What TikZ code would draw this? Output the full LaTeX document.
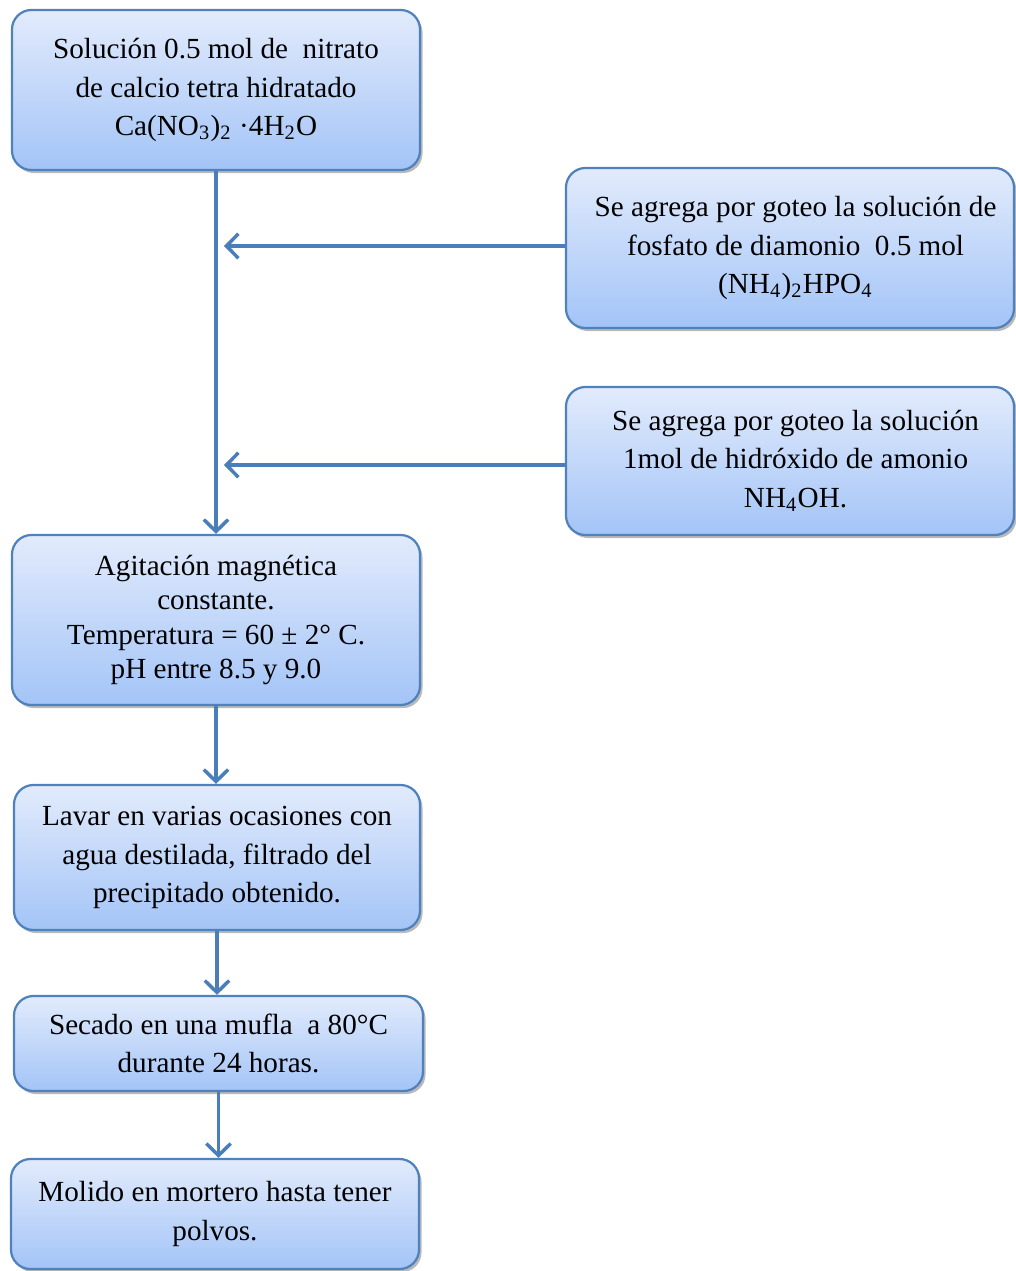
\documentclass[tikz,border=0pt]{standalone}
\usepackage{fontspec}
\setmainfont{Liberation Serif}
\usetikzlibrary{arrows.meta,shadows}
\definecolor{boxline}{RGB}{79,129,189}
\definecolor{boxtop}{RGB}{226,235,252}
\definecolor{boxbot}{RGB}{163,196,247}
\definecolor{flow}{RGB}{74,126,187}
\newcommand{\sbs}[1]{\textsubscript{#1}}
\begin{document}
\begin{tikzpicture}[x=0.36pt,y=-0.36pt,
  stepbox/.style={draw=boxline, line width=0.8pt, rounded corners=7pt,
    top color=boxtop, bottom color=boxbot, align=center, inner sep=0pt,
    font=\fontsize{10.5}{13.8}\selectfont,
    drop shadow={shadow xshift=0.9pt, shadow yshift=-1.1pt, fill=black!55, opacity=0.5}},
  flowline/.style={draw=flow, line width=1.25pt,
    -{Straight Barb[length=4.3pt,width=8.8pt,line width=1.25pt]}}]
\useasboundingbox (0,0) rectangle (1016,1271);

% process steps
\node[stepbox, minimum width=146.88pt, minimum height=57.6pt] (b1) at (216,90)
  {Solución 0.5 mol de\ \ nitrato\\de calcio tetra hidratado\\Ca(NO\sbs{3})\sbs{2} ·4H\sbs{2}O};
\node[stepbox, minimum width=161.28pt, minimum height=57.6pt] (b2) at (790,248)
  {\hspace*{4pt}Se agrega por goteo la solución de\\\hspace*{4pt}fosfato de diamonio\ \ 0.5 mol\\\hspace*{4pt}(NH\sbs{4})\sbs{2}HPO\sbs{4}};
\node[stepbox, minimum width=161.28pt, minimum height=53.28pt] (b3) at (790,461)
  {\hspace*{4pt}Se agrega por goteo la solución\\\hspace*{4pt}1mol de hidróxido de amonio\\\hspace*{4pt}NH\sbs{4}OH.};
\node[stepbox, minimum width=146.88pt, minimum height=61.2pt,
      font=\fontsize{10.5}{12.3}\selectfont] (b4) at (216,620)
  {Agitación magnética\\constante.\\Temperatura = 60 ± 2° C.\\pH entre 8.5 y 9.0};
\node[stepbox, minimum width=146.16pt, minimum height=52.2pt] (b5) at (217,857.5)
  {Lavar en varias ocasiones con\\agua destilada, filtrado del\\precipitado obtenido.};
\node[stepbox, minimum width=147.24pt, minimum height=34.2pt] (b6) at (218.5,1043.5)
  {Secado en una mufla\ \ a 80°C\\durante 24 horas.};
\node[stepbox, minimum width=146.88pt, minimum height=39.6pt] (b7) at (215,1214)
  {Molido en mortero hasta tener\\polvos.};

% where the side feeds meet the main line
\coordinate (j1) at (224,246);
\coordinate (j2) at (224,465);

% connectors
\draw[flowline] (b1.south) -- (b1.south |- b4.north);
\draw[flowline] (b2.west |- j1) -- (j1);
\draw[flowline] (b3.west |- j2) -- (j2);
\draw[flowline] (b4.south) -- (b4.south |- b5.north);
\draw[flowline] (b5.south) -- (b5.south |- b6.north);
\draw[flowline] (b6.south) -- (b6.south |- b7.north);
\end{tikzpicture}
\end{document}
